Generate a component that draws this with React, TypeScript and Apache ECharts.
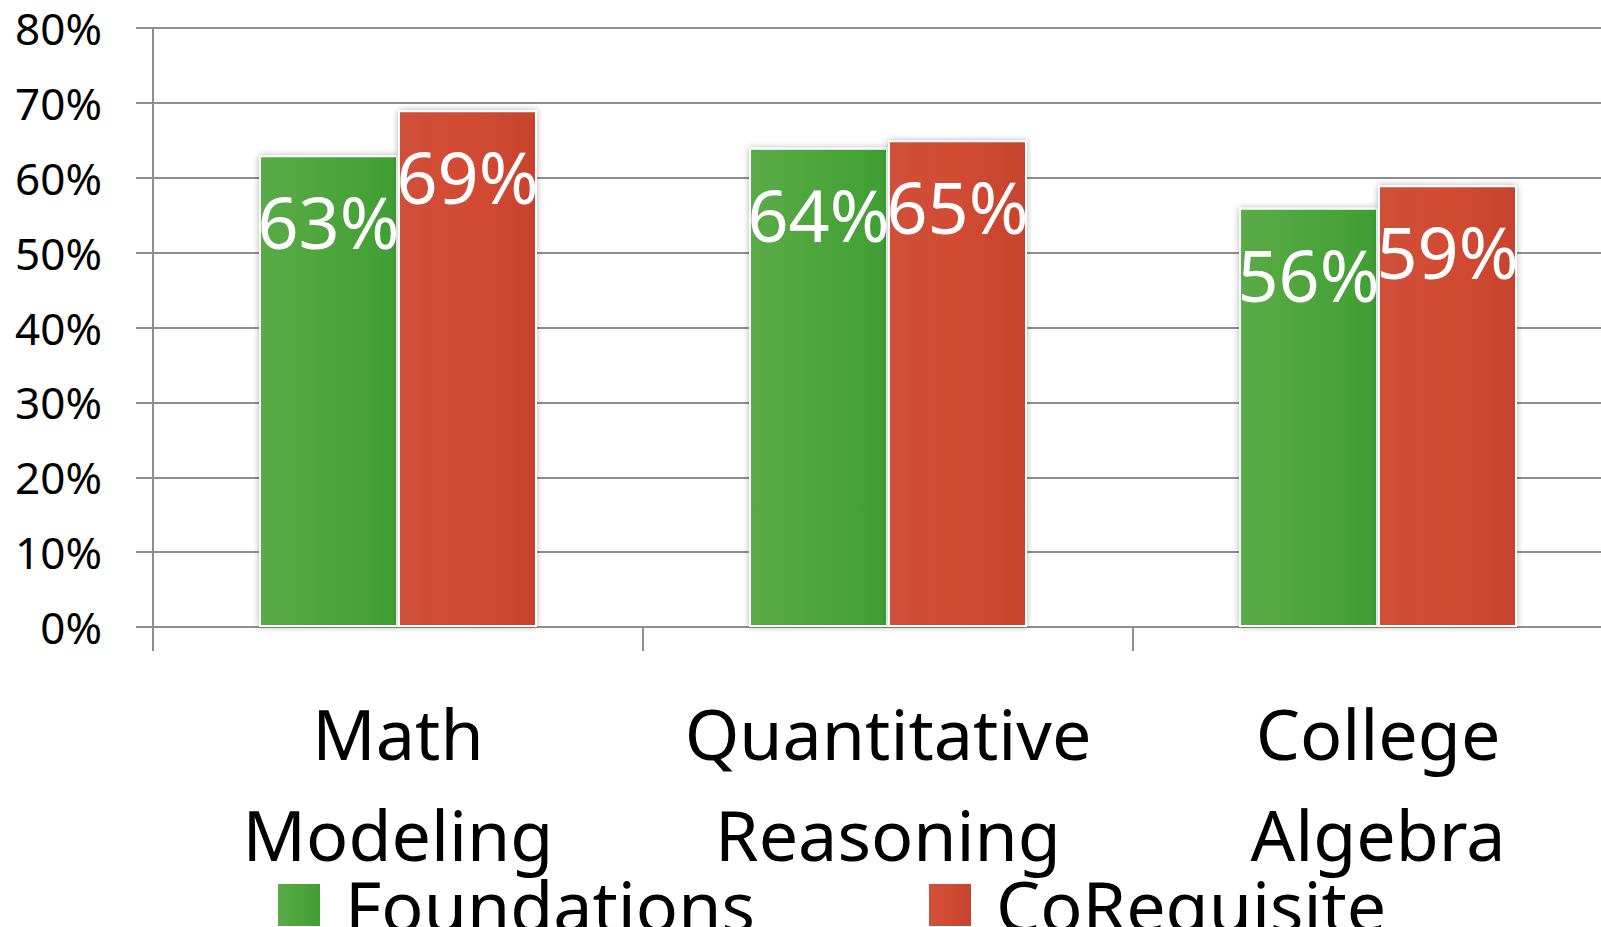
import React, { useEffect, useRef } from "react";
import * as echarts from "echarts";

const categories = ["Math\nModeling", "Quantitative\nReasoning", "College\nAlgebra"];
const foundations = [63, 64, 56];
const coRequisite = [69, 65, 59];
const yTicks = [0, 10, 20, 30, 40, 50, 60, 70, 80];
const seriesNames = ["Foundations", "CoRequisite"];

const FONT = "Noto Sans";
const GRAY = "#8e8e8e";
const CHART_W = 1660;

const greenFill = new echarts.graphic.LinearGradient(0, 0, 1, 0, [
  { offset: 0, color: "#5aab48" },
  { offset: 0.5, color: "#4ea53c" },
  { offset: 1, color: "#3f9e33" },
]);
const redFill = new echarts.graphic.LinearGradient(0, 0, 1, 0, [
  { offset: 0, color: "#cf5038" },
  { offset: 0.5, color: "#d24b33" },
  { offset: 1, color: "#c6432d" },
]);

export default function App() {
  const ref = useRef<HTMLDivElement>(null);
  useEffect(() => {
    if (!ref.current) return;
    const chart = echarts.init(ref.current, undefined, { renderer: "svg" });
    const label = {
      show: true,
      position: ["50%", 66],
      align: "center",
      verticalAlign: "middle",
      color: "#ffffff",
      fontSize: 72,
      fontFamily: FONT,
      formatter: "{c}%",
    };
    const itemBase = {
      borderColor: "#ffffff",
      borderWidth: 2,
      shadowBlur: 6,
      shadowColor: "rgba(0,0,0,0.3)",
    };
    const legendText = {
      fontSize: 70,
      fontFamily: FONT,
      color: "#000",
      lineHeight: 72,
      padding: [0, 0, 14, 20],
    };
    chart.setOption({
      animation: false,
      backgroundColor: "#ffffff",
      textStyle: { fontFamily: FONT },
      grid: { left: 153, top: 28, right: CHART_W - 1623, bottom: 300, containLabel: false },
      legend: [
        {
          data: [seriesNames[0]],
          left: 278,
          top: 862,
          padding: 0,
          itemWidth: 42,
          itemHeight: 42,
          icon: "rect",
          itemStyle: { borderWidth: 0, shadowBlur: 0 },
          textStyle: legendText,
        },
        {
          data: [seriesNames[1]],
          left: 929,
          top: 862,
          padding: 0,
          itemWidth: 42,
          itemHeight: 42,
          icon: "rect",
          itemStyle: { borderWidth: 0, shadowBlur: 0 },
          textStyle: legendText,
        },
      ],
      xAxis: {
        type: "category",
        data: categories,
        axisLine: { show: true, lineStyle: { color: GRAY, width: 2 } },
        axisTick: { show: true, length: 24, lineStyle: { color: GRAY, width: 2 } },
        axisLabel: {
          color: "#000",
          fontSize: 70,
          fontFamily: FONT,
          lineHeight: 101,
          margin: 55,
          interval: 0,
        },
        splitLine: { show: false },
      },
      yAxis: {
        type: "value",
        min: yTicks[0],
        max: yTicks[yTicks.length - 1],
        interval: 10,
        axisLine: { show: true, lineStyle: { color: GRAY, width: 2 } },
        axisTick: { show: true, length: 17, lineStyle: { color: GRAY, width: 2 } },
        axisLabel: {
          color: "#000",
          fontSize: 44,
          lineHeight: 46,
          fontFamily: FONT,
          margin: 51,
          formatter: "{value}%",
        },
        splitLine: { show: true, lineStyle: { color: GRAY, width: 2 } },
      },
      series: [
        {
          name: seriesNames[0],
          type: "bar",
          data: foundations,
          barWidth: 139,
          barGap: "0%",
          itemStyle: { ...itemBase, color: greenFill },
          label,
        },
        {
          name: seriesNames[1],
          type: "bar",
          data: coRequisite,
          barWidth: 139,
          barGap: "0%",
          itemStyle: { ...itemBase, color: redFill },
          label,
        },
      ],
    });
    return () => chart.dispose();
  }, []);
  return (
    <div style={{ position: "absolute", left: 0, top: 0, width: 1601, height: 927, overflow: "hidden" }}>
      <div ref={ref} style={{ width: CHART_W, height: 927 }} />
    </div>
  );
}
